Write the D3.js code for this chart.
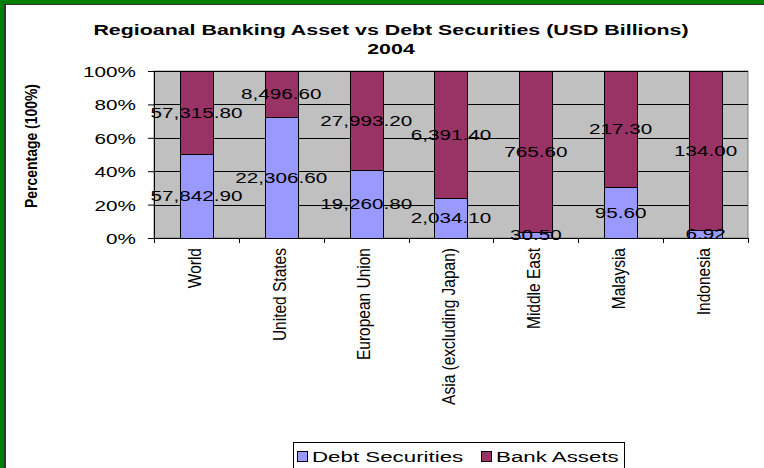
<html>
  <head>
    <meta http-equiv="Content-Type" content="text/html; charset=UTF-8" />
    <title>Regional Banking Asset vs Debt Securities</title>
    <script src="https://d3js.org/d3.v7.min.js"></script>
    <style>
      body { margin: 0; background: #fff; }
      text { font-family: "Liberation Sans", Arial, sans-serif; fill: #000; }
    </style>
  </head>
  <body>
    <div id="chart"></div>
    <script type="text/javascript">
    // data (USD billions, 2004)
    var regions = ["World", "United States", "European Union", "Asia (excluding Japan)",
                   "Middle East", "Malaysia", "Indonesia"];
    var debtSecurities = [57842.90, 22306.60, 19260.80, 2034.10, 30.50, 95.60, 6.92];
    var bankAssets = [57315.80, 8496.60, 27993.20, 6391.40, 765.60, 217.30, 134.00];
    var seriesNames = ["Debt Securities", "Bank Assets"];
    var seriesColors = ["#9999ff", "#993366"];
    var yTicks = [0, 0.2, 0.4, 0.6, 0.8, 1];
    var yTickLabels = ["0%", "20%", "40%", "60%", "80%", "100%"];

    var W = 764, H = 468;
    var sx = 1.38; // the old picture is stretched sideways, text too
    var fmt = d3.format(",.2f");

    var svg = d3.select("#chart").append("svg")
      .attr("width", W)
      .attr("height", H);

    // green frame with dark inner line
    svg.append("rect").attr("width", W).attr("height", H).attr("fill", "#008000");
    svg.append("rect").attr("x", 4).attr("y", 4).attr("width", W).attr("height", H).attr("fill", "#333");
    svg.append("rect").attr("x", 6).attr("y", 5).attr("width", W).attr("height", H).attr("fill", "#fff");

    // title
    var title = svg.append("text")
      .attr("text-anchor", "middle")
      .attr("font-weight", "bold")
      .attr("font-size", 15.5)
      .attr("transform", "translate(391,0) scale(" + sx + ",1)");
    title.append("tspan").attr("x", 0).attr("y", 35).text("Regioanal Banking Asset vs Debt Securities (USD Billions)");
    title.append("tspan").attr("x", 0).attr("y", 54).text("2004");

    var plot = { left: 154, right: 748, top: 71, bottom: 238 };

    var x = d3.scaleBand().domain(regions).range([plot.left, plot.right]).padding(0);
    var y = d3.scaleLinear().domain([0, 1]).range([plot.bottom, plot.top]);
    var barW = x.bandwidth() * 0.39;

    // plot area
    svg.append("rect")
      .attr("x", plot.left).attr("y", plot.top)
      .attr("width", plot.right - plot.left).attr("height", plot.bottom - plot.top)
      .attr("fill", "#c0c0c0").attr("stroke", "#808080");

    // gridlines
    svg.selectAll(".grid").data(yTicks).enter().append("line")
      .attr("x1", plot.left).attr("x2", plot.right)
      .attr("y1", function(d) { return Math.round(y(d)) + 0.5; })
      .attr("y2", function(d) { return Math.round(y(d)) + 0.5; })
      .attr("stroke", "#000");

    // stacked percentage bars
    var rows = regions.map(function(r, i) {
      var total = debtSecurities[i] + bankAssets[i];
      var d1 = debtSecurities[i] / total;
      return { region: r, segs: [
        { s: 0, y0: 0, y1: d1, v: debtSecurities[i] },
        { s: 1, y0: d1, y1: 1, v: bankAssets[i] }
      ]};
    });

    var groups = svg.selectAll(".bar").data(rows).enter().append("g");
    groups.selectAll("rect").data(function(d) { return d.segs.map(function(s) { s.region = d.region; return s; }); })
      .enter().append("rect")
      .attr("x", function(d) { return Math.round(x(d.region) + (x.bandwidth() - barW) / 2) + 0.5; })
      .attr("width", Math.round(barW))
      .attr("y", function(d) { return Math.round(y(d.y1)) + 0.5; })
      .attr("height", function(d) { return Math.round(y(d.y0)) - Math.round(y(d.y1)); })
      .attr("fill", function(d) { return seriesColors[d.s]; })
      .attr("stroke", "#000");

    // data labels
    rows.forEach(function(row) {
      row.segs.forEach(function(seg) {
        var cx = x(row.region) + x.bandwidth() / 2;
        var cy = y((seg.y0 + seg.y1) / 2);
        svg.append("text")
          .attr("transform", "translate(" + cx + "," + cy + ") scale(" + sx + ",1)")
          .attr("text-anchor", "middle")
          .attr("dy", "0.36em")
          .attr("font-size", 15)
          .text(fmt(seg.v));
      });
    });

    // y axis
    var yAxis = svg.append("g")
      .attr("transform", "translate(" + plot.left + ",0)")
      .call(d3.axisLeft(y).tickValues(yTicks).tickSize(6)
        .tickFormat(function(d, i) { return yTickLabels[i]; }));
    yAxis.select(".domain").attr("stroke", "#000");
    yAxis.selectAll("text")
      .attr("x", 0)
      .attr("dy", "0.36em")
      .attr("font-size", 15)
      .attr("font-family", null)
      .attr("transform", "translate(-18,0) scale(" + sx + ",1)");

    // x axis with ticks on category boundaries
    svg.append("line")
      .attr("x1", plot.left).attr("x2", plot.right)
      .attr("y1", plot.bottom + 0.5).attr("y2", plot.bottom + 0.5)
      .attr("stroke", "#000");
    svg.selectAll(".xtick").data(d3.range(regions.length + 1)).enter().append("line")
      .attr("x1", function(i) { return Math.round(plot.left + i * x.step()) + 0.5; })
      .attr("x2", function(i) { return Math.round(plot.left + i * x.step()) + 0.5; })
      .attr("y1", plot.bottom).attr("y2", plot.bottom + 5)
      .attr("stroke", "#000");

    svg.selectAll(".xlab").data(regions).enter().append("text")
      .attr("transform", function(d) {
        return "translate(" + (x(d) + x.bandwidth() / 2 - 2) + ",248) rotate(-90) scale(0.97,1.12)";
      })
      .attr("text-anchor", "end")
      .attr("dy", "0.35em")
      .attr("font-size", 16)
      .text(function(d) { return d; });

    // y axis title
    svg.append("text")
      .attr("transform", "translate(31,146) rotate(-90) scale(0.93,1.05)")
      .attr("text-anchor", "middle")
      .attr("dy", "0.35em")
      .attr("font-size", 15)
      .attr("font-weight", "bold")
      .text("Percentage (100%)");

    // legend
    var legend = svg.append("g");
    legend.append("rect")
      .attr("x", 293.5).attr("y", 442.5).attr("width", 331).attr("height", 40)
      .attr("fill", "#fff").attr("stroke", "#000");
    var legendX = [297, 481];
    seriesNames.forEach(function(name, i) {
      legend.append("rect")
        .attr("x", legendX[i] + 0.5).attr("y", 451.5).attr("width", 10).attr("height", 10)
        .attr("fill", seriesColors[i]).attr("stroke", "#000");
      legend.append("text")
        .attr("transform", "translate(" + (legendX[i] + 15) + ",462) scale(1.44,1)")
        .attr("font-size", 15.5)
        .text(name);
    });
    </script>
  </body>
</html>
